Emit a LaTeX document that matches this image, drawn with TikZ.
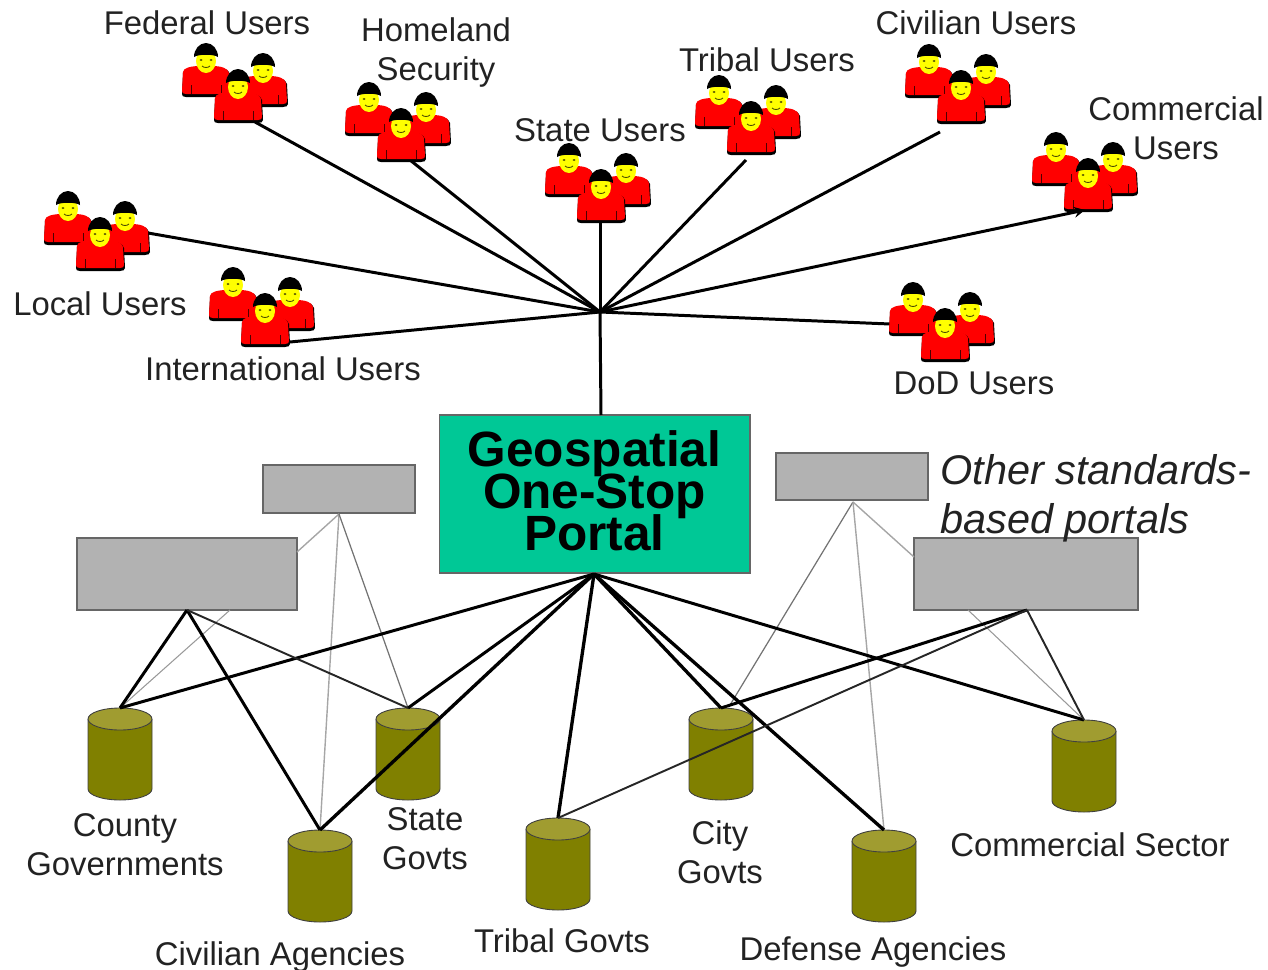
\documentclass[tikz,border=0pt]{standalone}
\usepackage{fontspec}
\setmainfont{Liberation Sans}
\definecolor{ink}{HTML}{222222}
\definecolor{teal0}{HTML}{00C896}
\definecolor{grey0}{HTML}{B2B2B2}
\definecolor{greyedge}{HTML}{666666}
\definecolor{olive0}{HTML}{808000}
\definecolor{olivetop}{HTML}{A09C30}
\definecolor{red0}{HTML}{FF0000}
\definecolor{yel0}{HTML}{FFFF00}
\tikzset{
  lbl/.style={text=ink,inner sep=0pt,align=center,font=\fontsize{18.7}{22.2}\selectfont},
  portalbox/.style={draw=greyedge,line width=0.6pt,fill=teal0,inner sep=0pt,minimum width=6.22cm,minimum height=3.16cm},
  portaltext/.style={inner sep=0pt,align=center,font=\bfseries\fontsize{28.2}{23.2}\selectfont,text=black},
  greybox/.style={draw=greyedge,line width=0.9pt,fill=grey0,inner sep=0pt},
  thick0/.style={black,line width=1.7pt},
  thicker0/.style={black,line width=1.9pt},
  mid0/.style={draw=black!85,line width=1.1pt},
  thin0/.style={draw=black!55,line width=0.7pt},
  light0/.style={draw=black!35,line width=0.8pt},
  faint0/.style={draw=black!40,line width=0.6pt},
}
\newcommand\person[2]{%
 \begin{scope}[shift={(#1,#2)}]
  \fill[black] (-23,30) .. controls (-23,26) and (-15,24) .. (-6,24) -- (6,24) .. controls (15,24) and (23,26) .. (24,31) -- (25,51) .. controls (25,53) and (23,54) .. (20,54) -- (-20,54) .. controls (-23,54) and (-24,53) .. (-24,51) -- cycle;
  \fill[red0] (-23,29) .. controls (-23,25) and (-15,23) .. (-6,23) -- (6,23) .. controls (15,23) and (22,25) .. (23,30) -- (24,48) .. controls (24,50) and (23,51) .. (20,51) -- (-20,51) .. controls (-23,51) and (-24,50) .. (-24,48) -- cycle;
  \draw[black!70!red0,line width=0.4pt] (-15,42) -- (-15,51) (15,42) -- (15,51);
  \fill[yel0] (0,18) ellipse (10 and 12);
  \fill[black] (-12,14) arc (180:360:12 and 14) .. controls (8,11) and (-8,11) .. cycle;
  \fill[black!70!yel0] (-5,17) ellipse (1.5 and 1) (5,17) ellipse (1.5 and 1);
  \draw[black!70!yel0,line width=0.5pt] (-4,23) .. controls (-2,25) and (2,25) .. (4,23);
 \end{scope}}
\newcommand\usergroup[2]{%
 \person{#1}{#2}%
 \person{#1+57}{#2+10}%
 \person{#1+32}{#2+26}}
\newcommand\drum[3]{% left x, top y, name
 \fill[olive0] (#1,#2+11) -- (#1,#2+81) arc (180:0:32 and 11) -- (#1+64,#2+11) arc (360:180:32 and 11) -- cycle;
 \draw[black!75,line width=0.5pt] (#1,#2+11) -- (#1,#2+81) arc (180:0:32 and 11) -- (#1+64,#2+11);
 \draw[black!75,fill=olivetop,line width=0.5pt] (#1+32,#2+11) ellipse (32 and 11);
 \coordinate (#3) at (#1+32,#2);}
\begin{document}
\begin{tikzpicture}[x=0.02cm,y=-0.02cm]
\useasboundingbox (0,0) rectangle (1268,970);
% hub and user-end coordinates
\coordinate (hub) at (600,312);
\coordinate (uFed) at (255,122);
\coordinate (uHom) at (410,160);
\coordinate (uSta) at (600,222);
\coordinate (uTri) at (746,160);
\coordinate (uCiv) at (940,132);
\coordinate (uCom) at (1085,210);
\coordinate (uDod) at (890,324);
\coordinate (uInt) at (290,342);
\coordinate (uLoc) at (148,233);
\coordinate (ptop) at (601,415);
% boxes
\node[portalbox] (portal) at (594.5,494) {};
\node[portaltext] (portalT) at (594.5,491) {Geospatial\\[-3pt]One-Stop\\[-3pt]Portal};
\node[greybox,minimum width=3.04cm,minimum height=0.96cm] (ls) at (339,489) {};
\node[greybox,minimum width=4.4cm,minimum height=1.44cm] (lb) at (187,574) {};
\node[greybox,minimum width=3.04cm,minimum height=0.94cm] (rs) at (852,476.5) {};
\node[greybox,minimum width=4.48cm,minimum height=1.44cm] (rb) at (1026,574) {};
% drums
\drum{88}{708}{dCounty}
\drum{288}{830}{dCivil}
\drum{376}{708}{dState}
\drum{526}{818}{dTribal}
\drum{689}{708}{dCity}
\drum{852}{830}{dDef}
\drum{1052}{720}{dComm}
\coordinate (lsb) at (339,514);
\coordinate (lse) at (297,552);
\coordinate (lbb) at (187,610);
\coordinate (lbc) at (230,610);
\coordinate (rsb) at (853,502);
\coordinate (rse) at (914,557);
\coordinate (rbb) at (1027,610);
\coordinate (rbc) at (968,610);
\coordinate (pb) at (594,574);
\coordinate (dCity2) at (730,705);
% light connectors
\draw[light0] (lsb) -- (lse);
\draw[light0] (lsb) -- (dCivil);
\draw[thin0] (lsb) -- (dState);
\draw[faint0] (lbc) -- (dCounty);
\draw[light0] (rsb) -- (rse);
\draw[thin0] (rsb) -- (dCity2);
\draw[light0] (rsb) -- (dDef);
\draw[faint0] (rbc) -- (dComm);
% portal connectors to drums
\draw[thick0] (pb) -- (dCounty);
\draw[thick0] (pb) -- (dState);
\draw[thicker0] (pb) -- (dCivil);
\draw[thicker0] (pb) -- (dTribal);
\draw[thicker0] (pb) -- (dCity);
\draw[thicker0] (pb) -- (dDef);
\draw[thick0] (pb) -- (dComm);
% gateway connectors
\draw[thick0] (lbb) -- (dCounty);
\draw[thick0] (lbb) -- (dCivil);
\draw[mid0] (lbb) -- (dState);
\draw[thick0] (rbb) -- (dCity);
\draw[mid0] (rbb) -- (dTribal);
\draw[mid0] (rbb) -- (dComm);
% user connectors
\draw[thick0] (hub) -- (ptop);
\draw[thick0] (hub) -- (uFed);
\draw[thick0] (hub) -- (uHom);
\draw[thick0] (hub) -- (uSta);
\draw[thick0] (hub) -- (uTri);
\draw[thick0] (hub) -- (uCiv);
\draw[thick0] (hub) -- (uDod);
\draw[thick0] (hub) -- (uInt);
\draw[thick0] (hub) -- (uLoc);
% user groups
\usergroup{206}{43}
\usergroup{369}{82}
\usergroup{569}{143}
\usergroup{719}{75}
\usergroup{929}{44}
\usergroup{1056}{132}
\usergroup{68}{191}
\usergroup{233}{267}
\usergroup{913}{282}
\draw[thick0,-stealth] (hub) -- (uCom);
% labels
\node[lbl] (tFed) at (207,23) {Federal Users};
\node[lbl] (tHom) at (436,52.5) {Homeland\\Security};
\node[lbl] (tTri) at (767,60) {Tribal Users};
\node[lbl] (tCiv) at (976,23) {Civilian Users};
\node[lbl] (tCom) at (1176,128) {Commercial\\Users};
\node[lbl] (tSta) at (600,130) {State Users};
\node[lbl] (tLoc) at (100,304) {Local Users};
\node[lbl] (tInt) at (283,369) {International Users};
\node[lbl] (tDod) at (974,383) {DoD Users};
\node[lbl,anchor=west,align=left,font=\itshape\fontsize{23.6}{27.8}\selectfont] (tOther) at (940,498) {Other standards-\\based portals};
\node[lbl] (tCounty) at (125,845) {County\\Governments};
\node[lbl] (tState) at (425,839) {State\\Govts};
\node[lbl] (tCity) at (720,852) {City\\Govts};
\node[lbl] (tTribal) at (562,941) {Tribal Govts};
\node[lbl] (tDef) at (873,952) {Defense Agencies};
\node[lbl] (tCivil) at (280,957) {Civilian Agencies};
\node[lbl] (tComm) at (1090,845) {Commercial Sector};
\end{tikzpicture}
\end{document}
